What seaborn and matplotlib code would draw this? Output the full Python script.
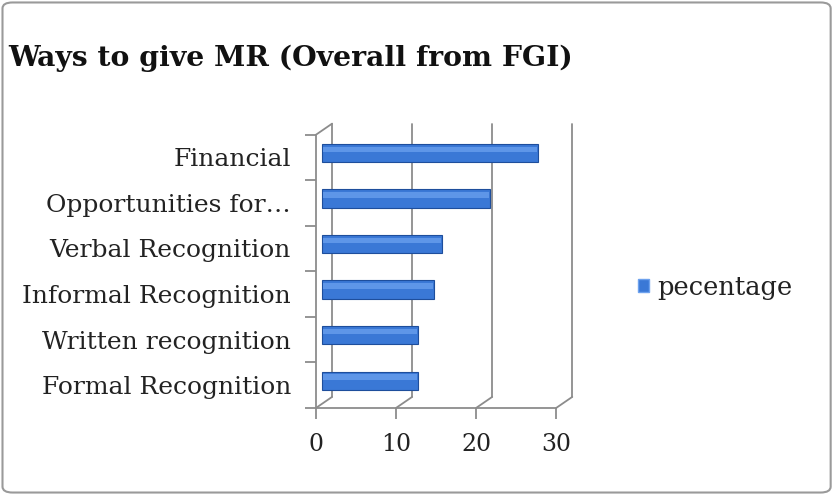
import numpy as np
import pandas as pd
import matplotlib
matplotlib.use('Agg')
import matplotlib.pyplot as plt
import matplotlib.transforms as mtransforms
from matplotlib.patches import FancyBboxPatch, Patch
import seaborn as sns

# data
categories = ['Financial', 'Opportunities for…', 'Verbal Recognition',
              'Informal Recognition', 'Written recognition', 'Formal Recognition']
pecentage = [27, 21, 15, 14, 12, 12]
x_ticks = [0, 10, 20, 30]

df = pd.DataFrame({'category': categories, 'pecentage': pecentage})

sns.set_theme(style='white')
plt.rcParams['font.family'] = ['DejaVu Serif']

bar_col = '#3A78D6'
grid_col = '#8C8C8C'

fig = plt.figure(figsize=(8.34, 4.95), dpi=100)
ax = fig.add_axes([0.379, 0.176, 0.288, 0.552])

sns.barplot(data=df, y='category', x='pecentage', color=bar_col, width=0.40,
            orient='h', ax=ax, edgecolor='#1E4E9C', linewidth=0.8, saturation=1)
n_main = len(ax.patches)
# lighter stripe for a rounded cylinder look
sns.barplot(data=df, y='category', x='pecentage', color='#5E96E8', width=0.12,
            orient='h', ax=ax, linewidth=0, saturation=1)

# fake 3d: bars sit a bit into the depth, back wall sits further back
mid = mtransforms.ScaledTranslation(0.06, 0.045, fig.dpi_scale_trans)
hi = mtransforms.ScaledTranslation(0.06, 0.08, fig.dpi_scale_trans)
back = ax.transData + mtransforms.ScaledTranslation(0.16, 0.11, fig.dpi_scale_trans)
for i, p in enumerate(ax.patches):
    if i < n_main:
        p.set_transform(ax.transData + mid)
    else:
        p.set_transform(ax.transData + hi)
        p.set_width(p.get_width() - 0.25)
        p.set_x(p.get_x() + 0.1)

ax.set_xlim(0, 30)
ylo, yhi = ax.get_ylim()
for x in x_ticks:
    ax.plot([x, x], [ylo, yhi], transform=back, color=grid_col, lw=1.3,
            clip_on=False, zorder=0)
    # floor connectors front -> back
    p0 = ax.transData.transform((x, ylo))
    p1 = back.transform((x, ylo))
    ax.plot([p0[0], p1[0]], [p0[1], p1[1]], transform=None, color=grid_col,
            lw=1.3, clip_on=False, zorder=0)
q0 = ax.transData.transform((0, yhi))
q1 = back.transform((0, yhi))
ax.plot([q0[0], q1[0]], [q0[1], q1[1]], transform=None, color=grid_col,
        lw=1.3, clip_on=False, zorder=0)

for s in ['top', 'right']:
    ax.spines[s].set_visible(False)
for s in ['left', 'bottom']:
    ax.spines[s].set_color(grid_col)
    ax.spines[s].set_linewidth(1.3)

ax.set_xticks(x_ticks)
ax.set_xticklabels([str(t) for t in x_ticks], fontsize=17, color='#222222')
ax.tick_params(axis='x', bottom=True, direction='out', length=8, width=1.3,
               color=grid_col, pad=10)
ax.tick_params(axis='y', left=True, length=0, pad=18, labelsize=18,
               labelcolor='#222222')
ax.set_yticks(np.arange(-0.5, len(categories)), minor=True)
ax.tick_params(axis='y', which='minor', left=True, direction='out', length=8,
               width=1.3, color=grid_col)
ax.set_xlabel('')
ax.set_ylabel('')

fig.text(0.01, 0.883, 'Ways to give MR (Overall from FGI)', fontsize=20.3,
         fontweight='bold', va='center', ha='left', color='#111111')

fig.legend([Patch(facecolor=bar_col, edgecolor='#6EA2EE')], ['pecentage'],
           loc='center left', bbox_to_anchor=(0.737, 0.42), frameon=False,
           handlelength=0.42, handleheight=0.42, handletextpad=0.35,
           fontsize=18.5, labelcolor='#222222')

fig.patches.append(FancyBboxPatch((0.003, 0.005), 0.993, 0.99,
                                  boxstyle='round,pad=0,rounding_size=0.012',
                                  transform=fig.transFigure, fill=False,
                                  edgecolor='#9A9A9A', lw=1.5))

fig.savefig('out.png', dpi=100)
